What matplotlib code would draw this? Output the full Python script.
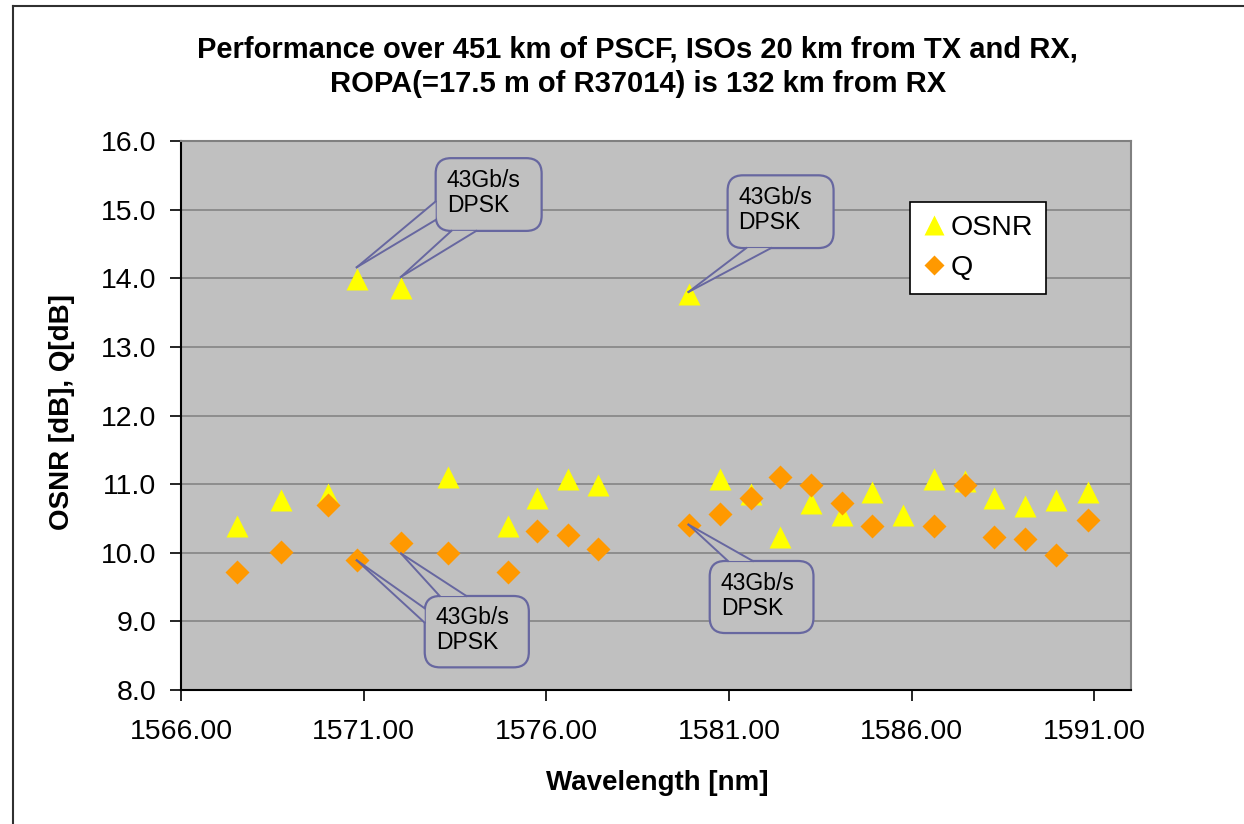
import numpy as np
import matplotlib
matplotlib.use('Agg')
import matplotlib.pyplot as plt
from matplotlib.patches import FancyBboxPatch, Polygon
from matplotlib.lines import Line2D

plt.rcParams['font.family'] = ['Liberation Sans', 'DejaVu Sans']

wavelength = [1567.52, 1568.74, 1570.01, 1570.81, 1572.02, 1573.31, 1574.96, 1575.75,
              1576.60, 1577.40, 1579.89, 1580.76, 1581.61, 1582.40, 1583.25, 1584.10,
              1584.91, 1585.76, 1586.62, 1587.46, 1588.26, 1589.11, 1589.96, 1590.83]
osnr = [10.39, 10.77, 10.86, 13.99, 13.86, 11.11, 10.39, 10.80,
        11.07, 10.99, 13.77, 11.07, 10.86, 10.23, 10.72, 10.55,
        10.89, 10.55, 11.07, 11.04, 10.80, 10.68, 10.77, 10.89]
q_db = [9.72, 10.01, 10.69, 9.89, 10.14, 9.99, 9.72, 10.32,
        10.26, 10.05, 10.41, 10.56, 10.80, 11.11, 10.99, 10.72,
        10.39, np.nan, 10.39, 10.99, 10.23, 10.20, 9.96, 10.47]

x_ticks = [1566, 1571, 1576, 1581, 1586, 1591]
y_ticks = [8, 9, 10, 11, 12, 13, 14, 15, 16]

callout_text = '43Gb/s\nDPSK'
# callout boxes (x0, x1, y0, y1) in data units
callout_boxes = [(1572.97, 1575.87, 14.69, 15.75),
                 (1580.96, 1583.86, 14.44, 15.50),
                 (1572.67, 1575.52, 8.33, 9.37),
                 (1580.47, 1583.31, 8.83, 9.88)]
# pointers: box index, series, point index, tip y offset, two base points
callout_pointers = [(0, 'osnr', 3, 0.17, (1572.97, 15.12), (1572.97, 14.85)),
                    (0, 'osnr', 4, 0.16, (1573.40, 14.69), (1574.08, 14.69)),
                    (1, 'osnr', 10, 0.03, (1581.47, 14.44), (1582.15, 14.44)),
                    (2, 'q', 3, 0.0, (1572.67, 9.19), (1572.67, 8.98)),
                    (2, 'q', 4, -0.15, (1573.08, 9.37), (1573.81, 9.37)),
                    (3, 'q', 10, 0.0, (1580.97, 9.88), (1581.65, 9.88))]

bg = '#c0c0c0'
edge = '#6767a0'

fig = plt.figure(figsize=(12.44, 8.24), dpi=100)
ax = fig.add_axes([181/1244, 1 - 690/824, 950/1244, 549/824])
ax.set_facecolor(bg)
ax.set_xlim(1566, 1592)
ax.set_ylim(8, 16)

ax.set_yticks(y_ticks)
ax.set_yticklabels([f'{v:.1f}' for v in y_ticks])
ax.set_xticks(x_ticks)
ax.set_xticklabels([f'{v:.2f}' for v in x_ticks])
ax.tick_params(axis='both', direction='out', length=8, width=1.2, labelsize=20.5, color='black')
ax.tick_params(axis='y', pad=10)
ax.tick_params(axis='x', pad=13)
ax.yaxis.grid(True, color='#808080', lw=1.1)
ax.set_axisbelow(True)
for s in ['left', 'bottom']:
    ax.spines[s].set_color('black')
    ax.spines[s].set_linewidth(1.5)
for s in ['top', 'right']:
    ax.spines[s].set_color('#808080')
    ax.spines[s].set_linewidth(1.5)

ax.plot(wavelength, osnr, ls='none', marker='^', ms=16.5, color='#ffff00', mec='none', label='OSNR', zorder=3)
ax.plot(wavelength, q_db, ls='none', marker='D', ms=11.8, color='#ff9900', mec='none', label='Q', zorder=4)

# callouts
fig.canvas.draw()
p0 = ax.transData.transform((1566, 8))
p1 = ax.transData.transform((1567, 9))
aspect = (p1[0] - p0[0]) / (p1[1] - p0[1])
series = {'osnr': osnr, 'q': q_db}
for (x0, x1, y0, y1) in callout_boxes:
    box = FancyBboxPatch((x0, y0), x1 - x0, y1 - y0,
                         boxstyle='round,pad=0,rounding_size=0.42',
                         mutation_aspect=aspect, fc=bg, ec=edge, lw=1.6, zorder=5)
    ax.add_patch(box)
    ax.text(x0 + 0.3, (y0 + y1) / 2 + 0.02, callout_text, ha='left', va='center',
            fontsize=16.5, linespacing=1.12, zorder=7)
for bi, name, idx, dy, b1, b2 in callout_pointers:
    tip = (wavelength[idx], series[name][idx] + dy)
    ax.add_patch(Polygon([tip, b1, b2], closed=True, fc=bg, ec='none', zorder=6))
    ax.plot([tip[0], b1[0]], [tip[1], b1[1]], color=edge, lw=1.4, zorder=6)
    ax.plot([tip[0], b2[0]], [tip[1], b2[1]], color=edge, lw=1.4, zorder=6)

leg = ax.legend(loc='upper left', bbox_to_anchor=(0.767, 0.889), borderaxespad=0,
                fontsize=20.5, handlelength=0.8, handletextpad=0.2, labelspacing=0.5,
                borderpad=0.45, fancybox=False, framealpha=1, markerscale=0.85)
leg.get_frame().set_edgecolor('black')
leg.get_frame().set_linewidth(1.2)

fig.text(637/1244, 1 - 50/824, 'Performance over 451 km of PSCF, ISOs 20 km from TX and RX,',
         ha='center', va='center', fontsize=21, fontweight='bold')
fig.text(638/1244, 1 - 84/824, 'ROPA(=17.5 m of R37014) is 132 km from RX',
         ha='center', va='center', fontsize=21, fontweight='bold')
fig.text(657/1244, 1 - 783/824, 'Wavelength [nm]', ha='center', va='center',
         fontsize=20, fontweight='bold')
fig.text(62/1244, 1 - 412/824, 'OSNR [dB], Q[dB]', ha='center', va='center',
         rotation=90, fontsize=20, fontweight='bold')

# outer chart border (left and top)
fig.add_artist(Line2D([13/1244, 13/1244], [0, 1 - 6/824], color='#303030', lw=1.5))
fig.add_artist(Line2D([13/1244, 1], [1 - 6/824, 1 - 6/824], color='#303030', lw=1.5))

fig.savefig('out.png', dpi=100)
